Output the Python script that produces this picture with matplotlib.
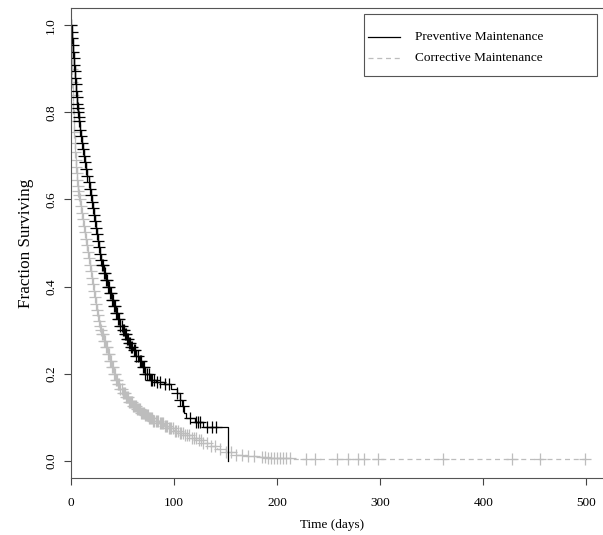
import numpy as np
import matplotlib
matplotlib.use("Agg")
import matplotlib.pyplot as plt
from matplotlib.patches import Rectangle
from matplotlib.lines import Line2D

plt.rcParams['font.family'] = ['Liberation Serif', 'DejaVu Serif']

# Kaplan-Meier step points (time in days, fraction surviving)
prev_times = [0, 0.5, 1, 1.5, 2, 2.5, 3, 3.5, 4, 4.5, 5, 5.5, 6, 6.5, 7, 7.5, 8, 8.5, 9, 9.5,
              10, 11, 12, 13, 14, 15, 16, 17, 18, 19, 20, 21, 22, 23, 24, 25, 26, 27, 28, 29,
              30, 32, 34, 36, 38, 40, 42, 44, 46, 48, 50, 52, 54, 56, 58, 60, 63, 66, 69, 72,
              77, 82, 90, 97, 103, 106, 108, 110, 112, 120, 128, 152]
prev_surv = [1.0, .985, .97, .955, .94, .925, .91, .895, .88, .865, .85, .835, .82, .81, .80, .79, .78, .77, .76, .75,
             .745, .73, .715, .70, .685, .67, .655, .64, .625, .61, .595, .58, .565, .55, .535, .52, .505, .49, .475, .46,
             .45, .43, .415, .40, .385, .37, .355, .34, .325, .31, .30, .29, .28, .27, .26, .255, .24, .23, .215, .20,
             .185, .18, .175, .165, .155, .14, .125, .11, .097, .088, .078, 0.0]

corr_times = [0, 0.3, 0.6, 1, 1.3, 1.6, 2, 2.5, 3, 3.5, 4, 4.5, 5, 5.5, 6, 6.5, 7, 7.5, 8, 9,
              10, 11, 12, 13, 14, 15, 16, 17, 18, 19, 20, 21, 22, 23, 24, 25, 26, 27, 28, 29,
              30, 32, 34, 36, 38, 40, 42, 44, 46, 48, 50, 53, 56, 60, 64, 68, 72, 76, 80, 85,
              90, 95, 100, 105, 110, 116, 122, 128, 135, 142, 150, 160, 170, 180, 190, 215, 500]
corr_surv = [1.0, .97, .94, .90, .87, .84, .81, .78, .755, .73, .71, .69, .675, .66, .645, .63, .62, .61, .60, .585,
             .57, .555, .54, .525, .51, .495, .48, .465, .45, .435, .42, .405, .39, .375, .36, .345, .335, .32, .31, .30,
             .29, .275, .26, .245, .23, .215, .20, .185, .175, .165, .155, .145, .135, .125, .118, .11, .104, .098, .092, .086,
             .08, .074, .069, .064, .059, .053, .047, .04, .033, .026, .019, .014, .011, .008, .006, .003, .003]

# censored observations (days)
prev_cens = [0, 0.5, 1, 1.5, 2, 2.5, 3, 3.5, 4, 4.5, 5, 5.5, 6, 6.5, 7, 7.5, 8, 9, 10, 11,
             12, 13, 14, 15, 16, 17, 18, 19, 20, 21, 22, 23, 24, 25, 26, 27, 28, 29, 30, 31,
             32, 33, 34, 35, 36, 37, 38, 39, 40, 41, 42, 43, 44, 45, 46, 47, 48, 49, 50, 51,
             52, 53, 54, 55, 56, 57, 58, 59, 61, 62, 63, 65, 67, 68, 70, 71, 72, 74, 76, 78,
             79, 81, 83, 86, 91, 95, 103, 106, 109, 115, 121, 123, 125, 132, 137, 141]
corr_cens = [0.2, 0.5, 0.8, 1.1, 1.4, 1.8, 2.2, 2.7, 3.2, 3.7, 4.2, 4.7, 5.2, 5.7, 6.2, 6.7, 7.2, 7.7, 8.5, 9.5,
             10.5, 11.5, 12.5, 13.5, 14.5, 15.5, 16.5, 17.5, 18.5, 19.5, 20.5, 21.5, 22.5, 23.5, 24.5, 25.5, 26.5, 27.5, 28.5, 29.5,
             30.5, 31, 32, 33, 34, 35, 36, 37, 38, 39, 40, 41, 42, 43, 44, 45, 46, 47, 48, 49,
             50, 51, 52, 53, 54, 55, 56, 57, 58, 59, 60, 61, 62, 63, 64, 65, 66, 67, 68, 69,
             70, 71, 72, 73, 74, 75, 76, 77, 78, 79, 80, 81, 82, 83, 84, 86, 87, 88, 89, 91,
             92, 93, 95, 96, 97, 99, 101, 102, 104, 106, 107, 109, 111, 113, 114, 117, 119, 121, 124, 126,
             128, 132, 136, 140, 145, 150, 155, 160, 166, 172, 178, 185, 188, 191, 194, 197, 200, 203, 206, 209,
             212, 228, 237, 258, 269, 278, 284, 298, 361, 428, 455, 499]

labels = ['Preventive Maintenance', 'Corrective Maintenance']
gray = '#bdbdbd'


def surv_at(times, surv, t):
    idx = np.searchsorted(times, t, side='right') - 1
    return np.asarray(surv)[idx]


fig = plt.figure(figsize=(6.03, 5.35), dpi=100)
ax = fig.add_axes([71/603, 57/535, 536/603, 470/535])

ax.step(corr_times, corr_surv, where='post', color=gray, lw=0.9, ls=(0, (4, 3)))
ax.plot(corr_cens, surv_at(corr_times, corr_surv, corr_cens), ls='none', marker='+',
        ms=8, mew=0.9, color=gray)
ax.step(prev_times, prev_surv, where='post', color='black', lw=0.9)
ax.plot(prev_cens, surv_at(prev_times, prev_surv, prev_cens), ls='none', marker='+',
        ms=8, mew=0.9, color='black')

ax.set_xlim(0, 520)
ax.set_ylim(-0.04, 1.04)
ax.set_xticks([0, 100, 200, 300, 400, 500])
ax.set_yticks([0.0, 0.2, 0.4, 0.6, 0.8, 1.0])
ax.set_yticklabels(['0.0', '0.2', '0.4', '0.6', '0.8', '1.0'], rotation=90, va='center')
ax.tick_params(direction='out', length=5, width=0.8, color='#444444', labelsize=9.5)
ax.tick_params(axis='x', pad=9)
ax.tick_params(axis='y', pad=5)
for sp in ax.spines.values():
    sp.set_color('#555555')
    sp.set_linewidth(0.8)

ax.set_xlabel('Time (days)', fontsize=9.5)
ax.xaxis.set_label_coords((332 - 71) / 536, -(525 - 478) / 470, transform=ax.transAxes)
ax.xaxis.label.set_va('center')
ax.set_ylabel('Fraction Surviving', fontsize=12.3, labelpad=8)

# legend box drawn like R's legend()
def fx(px):
    return px / 603

def fy(py):
    return 1 - py / 535

fig.patches.append(Rectangle((fx(364), fy(76)), fx(597) - fx(364), fy(14) - fy(76),
                             transform=fig.transFigure, fill=False, ec='#555555', lw=0.8))
fig.lines.append(Line2D([fx(368), fx(400)], [fy(37), fy(37)], transform=fig.transFigure,
                        color='black', lw=0.9))
fig.lines.append(Line2D([fx(368), fx(400)], [fy(58), fy(58)], transform=fig.transFigure,
                        color=gray, lw=0.9, ls=(0, (4, 3))))
fig.text(fx(415), fy(37), labels[0], fontsize=9.5, va='center')
fig.text(fx(415), fy(58), labels[1], fontsize=9.5, va='center')

fig.savefig('out.png', dpi=100)
